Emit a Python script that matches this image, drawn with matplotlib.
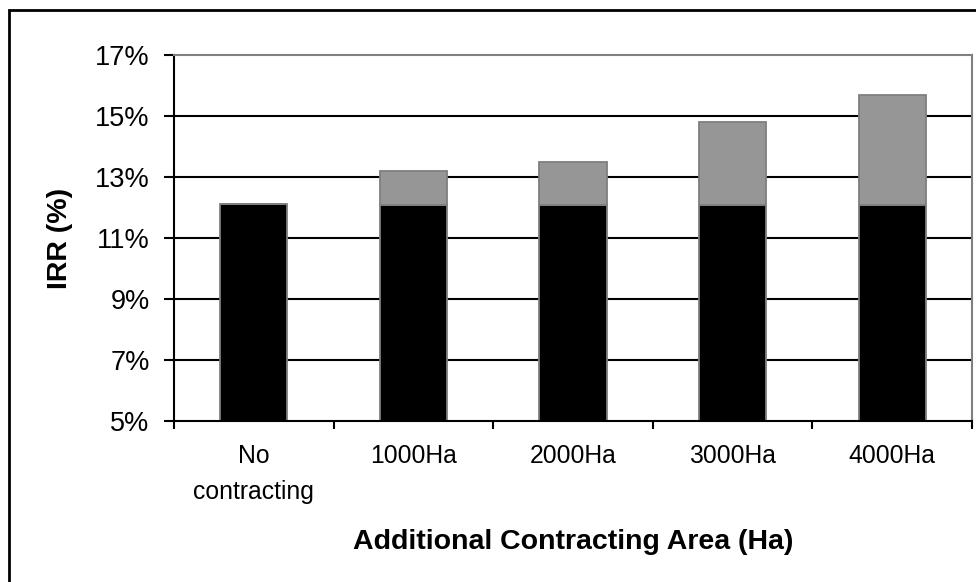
import matplotlib
matplotlib.use("Agg")
import matplotlib.pyplot as plt
from matplotlib.patches import Rectangle
from matplotlib.ticker import FuncFormatter
import numpy as np

plt.rcParams['font.family'] = ['Liberation Sans', 'DejaVu Sans']

# data (IRR in %)
categories = ['No\ncontracting', '1000Ha', '2000Ha', '3000Ha', '4000Ha']
base_irr = [12.1, 12.07, 12.07, 12.07, 12.07]
total_irr = [12.1, 13.2, 13.5, 14.8, 15.7]
extra_irr = [t - b for t, b in zip(total_irr, base_irr)]
y_ticks = [5, 7, 9, 11, 13, 15, 17]

fig = plt.figure(figsize=(9.76, 5.82), dpi=100)
ax = fig.add_axes([174 / 976, 1 - 421 / 582, (972 - 174) / 976, (421 - 55) / 582])

x = np.arange(len(categories))
w = 0.42

# gridlines under the bars
for yv in y_ticks[1:-1]:
    ax.axhline(yv, color='black', lw=1.5, zorder=1)

ax.bar(x, base_irr, w, color='black', edgecolor='#7f7f7f', lw=1.3, zorder=2)
ax.bar(x, extra_irr, w, bottom=base_irr, color='#969696', edgecolor='#7f7f7f', lw=1.3, zorder=2)

ax.set_ylim(5, 17)
ax.set_xlim(-0.5, len(categories) - 0.5)
ax.set_yticks(y_ticks)
ax.yaxis.set_major_formatter(FuncFormatter(lambda v, p: '%d%%' % v))
ax.tick_params(axis='y', direction='out', length=7.5, width=1.5, pad=10, labelsize=19.5)

ax.set_xticks(x, categories)
ax.set_xticks(np.arange(-0.5, len(categories)), minor=True)
ax.tick_params(axis='x', which='major', length=0, pad=16.5, labelsize=17.8)
ax.tick_params(axis='x', which='minor', direction='out', length=5.5, width=1.5)
for lbl in ax.get_xticklabels():
    lbl.set_linespacing(1.65)

for side in ['left', 'bottom']:
    ax.spines[side].set_color('black')
    ax.spines[side].set_linewidth(1.5)
for side in ['top', 'right']:
    ax.spines[side].set_color('#808080')
    ax.spines[side].set_linewidth(1.5)

ax.set_ylabel('IRR (%)', fontsize=20.5, fontweight='bold', labelpad=16)
ax.set_xlabel('Additional Contracting Area (Ha)', fontsize=20.5, fontweight='bold', labelpad=18)

# outer chart frame (clipped at right and bottom like the reference)
fig.patches.append(Rectangle((9 / 976, -0.1), 1.2, 1.1 - 10 / 582, transform=fig.transFigure,
                             fill=False, edgecolor='black', lw=2, clip_on=False))

fig.savefig('out.png', dpi=100)
